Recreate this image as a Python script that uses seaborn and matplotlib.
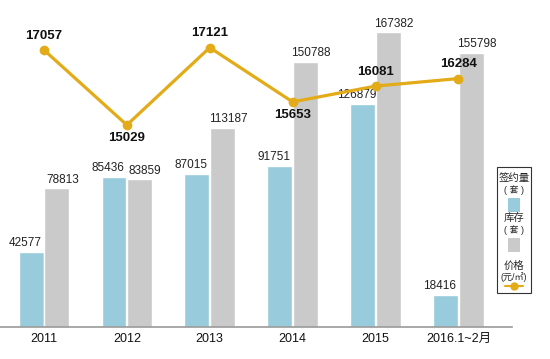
import numpy as np
import pandas as pd
import matplotlib
matplotlib.use("Agg")
import matplotlib.pyplot as plt
import seaborn as sns
from matplotlib.patches import Rectangle
from matplotlib.lines import Line2D

# data
years = ["2011", "2012", "2013", "2014", "2015", "2016.1~2月"]
signed = [42577, 85436, 87015, 91751, 126879, 18416]      # 签约量 (套)
stock = [78813, 83859, 113187, 150788, 167382, 155798]     # 库存 (套)
price = [17057, 15029, 17121, 15653, 16081, 16284]         # 价格 (元/㎡)
price_pos = ["above", "below", "above", "below", "above", "above"]

blue = "#98cbdc"
grey = "#cacaca"
gold = "#e2ab17"

sns.set_theme(style="white")
plt.rcParams["font.family"] = ["Liberation Sans", "Noto Sans CJK SC"]

df = pd.DataFrame({
    "year": years * 2,
    "value": signed + stock,
    "kind": ["签约量"] * len(years) + ["库存"] * len(years),
})

fig = plt.figure(figsize=(5.5, 3.59), dpi=100)
ax = fig.add_axes([0.0, 0.089, 0.93, 0.911])

sns.barplot(data=df, x="year", y="value", hue="kind", palette=[blue, grey],
            width=0.62, gap=0.03, ax=ax, legend=False, saturation=1)

# value labels, nudged apart a little like in the original
for c, shift in zip(ax.containers, [-4, 4]):
    for bar in c:
        h = bar.get_height()
        ax.annotate(f"{h:.0f}", (bar.get_x() + bar.get_width() / 2, h),
                    xytext=(shift, 2), textcoords="offset points",
                    ha="center", va="bottom", fontsize=8.5, color="#222222")

ax.set_ylim(0, 185800)
ax.set_xlim(-0.53, 5.64)
ax.set_xlabel("")
ax.set_ylabel("")
ax.set_yticks([])
ax.tick_params(axis="x", length=0, labelsize=9, pad=4, colors="#111111")
for s in ["top", "left", "right"]:
    ax.spines[s].set_visible(False)
ax.spines["bottom"].set_color("#999999")
ax.spines["bottom"].set_linewidth(1.2)

# price line on a second axis
ax2 = ax.twinx()
sns.lineplot(x=np.arange(len(years)), y=price, ax=ax2, color=gold,
             linewidth=2.3, marker="o", markersize=7, markeredgewidth=0)
ax2.set_ylim(9570, 18407)
ax2.set_xlim(ax.get_xlim())
ax2.axis("off")
for i, (p, pos) in enumerate(zip(price, price_pos)):
    dy = 6 if pos == "above" else -5
    ax2.annotate(str(p), (i, p), xytext=(0, dy), textcoords="offset points",
                 ha="center", va="bottom" if pos == "above" else "top",
                 fontsize=9.5, fontweight="bold", color="#111111")

# legend box drawn by hand
fig.add_artist(Rectangle((0.903, 0.184), 0.063, 0.351, transform=fig.transFigure,
                         facecolor="white", edgecolor="#333333", linewidth=0.8))
lx = 0.9345
fig.text(lx, 0.504, "签约量", ha="center", va="center", fontsize=7.5)
fig.text(lx, 0.471, "( 套 )", ha="center", va="center", fontsize=6.5)
fig.add_artist(Rectangle((0.9235, 0.409), 0.022, 0.039, transform=fig.transFigure,
                         facecolor=blue, edgecolor="none"))
fig.text(lx, 0.393, "库存", ha="center", va="center", fontsize=7.5)
fig.text(lx, 0.359, "( 套 )", ha="center", va="center", fontsize=6.5)
fig.add_artist(Rectangle((0.9235, 0.298), 0.022, 0.040, transform=fig.transFigure,
                         facecolor=grey, edgecolor="none"))
fig.text(lx, 0.259, "价格", ha="center", va="center", fontsize=7.5)
fig.text(lx, 0.228, "(元/㎡)", ha="center", va="center", fontsize=6.5)
fig.add_artist(Line2D([0.918, 0.951], [0.203, 0.203], transform=fig.transFigure,
                      color=gold, linewidth=1.5))
fig.add_artist(Line2D([lx], [0.203], transform=fig.transFigure, color=gold,
                      marker="o", markersize=6, markeredgewidth=0, linestyle="none"))

fig.savefig("out.png", dpi=100)
